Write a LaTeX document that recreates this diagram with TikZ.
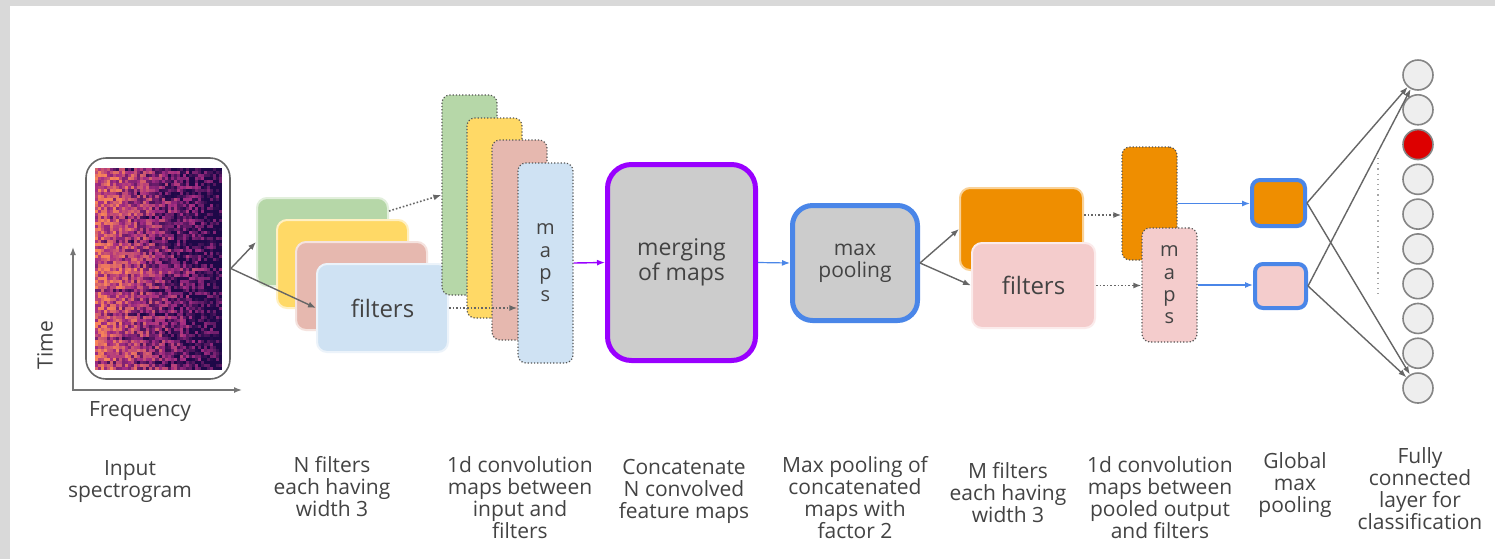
\documentclass[tikz,border=0pt]{standalone}
\usepackage{fontspec}
\setmainfont{Open Sans}
\usetikzlibrary{arrows.meta,calc,positioning}

% palette
\definecolor{bggray}{HTML}{D9D9D9}
\definecolor{txt}{HTML}{434343}
\definecolor{linegray}{HTML}{666666}
\definecolor{dotgray}{HTML}{555555}
\definecolor{lgreen}{HTML}{B6D7A8}
\definecolor{lyellow}{HTML}{FFD966}
\definecolor{lsalmon}{HTML}{E6B8AF}
\definecolor{lblue}{HTML}{CFE2F3}
\definecolor{lpink}{HTML}{F4CCCC}
\definecolor{dorange}{HTML}{EF8E00}
\definecolor{cellgray}{HTML}{CCCCCC}
\definecolor{neurongray}{HTML}{EEEEEE}
\definecolor{mergepurple}{HTML}{9900FF}
\definecolor{poolblue}{HTML}{4A86E8}
\definecolor{hotred}{HTML}{DD0000}
% spectrogram colour ramp
\definecolor{specA}{HTML}{1E0848}
\definecolor{specB}{HTML}{A42C84}
\definecolor{specC}{HTML}{F7835A}

\tikzset{
  lbl/.style={align=center, inner sep=0pt, text=txt, font=\fontsize{10.5}{11}\selectfont},
  filt/.style={draw=#1!40!white, fill=#1, line width=1pt, rounded corners=5pt,
    minimum width=65.5pt, minimum height=44pt, inner sep=0pt, text=txt,
    font=\fontsize{12}{13}\selectfont},
  fmap/.style={draw=dotgray, densely dotted, line width=0.6pt, fill=#1, rounded corners=4pt,
    minimum width=27.5pt, minimum height=100pt, inner sep=0pt, align=center, text=txt,
    font=\fontsize{10}{11.2}\selectfont},
  gpool/.style={draw=poolblue, line width=2pt, fill=#1, rounded corners=4pt,
    inner sep=0pt},
  neuron/.style={circle, draw=linegray!80, line width=0.8pt, minimum size=15pt, inner sep=0pt},
  conn/.style={draw=linegray, line width=0.7pt},
  dotconn/.style={draw=linegray, densely dotted, line width=0.8pt},
}

\begin{document}
\begin{tikzpicture}[x=0.5pt, y=-0.5pt, >={Latex[length=4pt,width=3pt]}]
\useasboundingbox (0,0) rectangle (1495,559);
\fill[bggray] (0,0) rectangle (1495,559);
\fill[white] (10,6) rectangle (1495,559);

% input spectrogram
\pgfmathsetseed{17}
\foreach \i in {0,...,41}{
  \foreach \j in {0,...,66}{
    \pgfmathsetmacro\v{0.8-0.78*\i/41+0.7*(rnd-0.5)-0.22*(mod(\j,8)==0)+0.15*(abs(\j-33)<2)}
    \pgfmathtruncatemacro\pb{100*min(max(2*\v,0),1)}
    \pgfmathtruncatemacro\pc{100*min(max(2*\v-1,0),1)}
    \fill[specC!\pc!specB!\pb!specA] (95+3.024*\i,168+3.015*\j) rectangle ++(3.3,3.3);
  }
}
\node[draw=linegray, line width=0.8pt, rounded corners=10pt, minimum width=72pt,
  minimum height=110.5pt, inner sep=0pt] (spec) at (158,268.5) {};

% axes
\coordinate (origin) at (73,390);
\coordinate (tEnd) at (73,247);
\coordinate (fEnd) at (242,390);
\draw[draw=linegray!90, line width=0.7pt, <->] (tEnd) -- (origin) -- (fEnd);
\node[lbl, rotate=90] (timeLbl) at (45,345) {Time};
\node[lbl] (freqLbl) at (140,412) {Frequency};

% N filters
\node[filt=lgreen] (fGreen) at (322.5,242) {};
\node[filt=lyellow] (fYellow) at (342.5,264) {};
\node[filt=lsalmon] (fSalmon) at (361.5,286) {};
\node[filt=lblue] (fBlue) at (382.5,308) {filters};
\draw[conn,->] (spec.east) -- (fGreen.west);
\draw[conn,->] (spec.east) -- (fBlue.west);

% convolution maps
\node[fmap=lgreen] (mGreen) at (469.5,195) {};
\node[fmap=lyellow] (mYellow) at (494.5,218) {};
\node[fmap=lsalmon] (mSalmon) at (519.5,240) {};
\node[fmap=lblue] (mBlue) at (545.5,263) {m\\a\\p\\s};
\draw[dotconn,->] (fGreen.25) -- (mGreen.west);
\draw[dotconn,->] (fBlue.east) -- (fBlue.east -| mBlue.west);

% merging and pooling
\node[draw=mergepurple, line width=2.5pt, fill=cellgray, rounded corners=12pt,
  minimum width=74pt, minimum height=98pt, align=center, text=txt,
  font=\fontsize{11.5}{11.5}\selectfont] (merge) at (681.5,262.5) {merging\\of maps};
\draw[draw=mergepurple, line width=0.7pt, ->] (mBlue.east) -- (merge.west);
\node[draw=poolblue, line width=2.5pt, fill=cellgray, rounded corners=10pt,
  minimum width=62.5pt, minimum height=57.5pt, align=center, text=txt,
  font=\fontsize{10.5}{11}\selectfont] (pool) at (855,263) {max\\pooling};
\draw[draw=poolblue, line width=0.6pt, ->] (merge.east) -- (pool.west);

% M filters
\node[filt=dorange, minimum width=61.5pt, minimum height=41pt] (fOrange) at (1021.5,229) {};
\node[filt=lpink, minimum width=61.5pt, minimum height=42.5pt] (fPink) at (1033.5,285.5) {filters};
\draw[conn,->] (pool.east) -- (fOrange.west);
\draw[conn,->] (pool.east) -- (fPink.west);

% second convolution maps
\node[fmap=dorange, minimum height=56.5pt] (mOrange) at (1149.5,203.5) {};
\node[fmap=lpink, minimum height=57pt] (mPink) at (1169.5,285) {m\\a\\p\\s};
\draw[dotconn,->] ([yshift=7pt]fOrange.east) -- ([yshift=7pt]fOrange.east -| mOrange.west);
\draw[dotconn,->] (fPink.east) -- (fPink.east -| mPink.west);

% global max pooling
\node[gpool=dorange, minimum width=26.5pt, minimum height=23pt] (gOrange) at (1278.5,203) {};
\node[gpool=lpink, minimum width=25.5pt, minimum height=22pt] (gPink) at (1280.5,286) {};
\draw[draw=poolblue, line width=0.6pt, ->] (mOrange.east) -- (mOrange.east -| gOrange.west);
\draw[draw=poolblue, line width=0.6pt, ->] (mPink.east) -- (mPink.east -| gPink.west);

% fully connected layer
\foreach \k in {1,...,10}{
  \ifnum\k=3 \def\nfill{hotred}\else\def\nfill{neurongray}\fi
  \node[neuron, fill=\nfill] (n\k) at (1418,{75+34.78*(\k-1)}) {};
}
\coordinate (dotTop) at (1378,158);
\coordinate (dotBot) at (1378,298);
\draw[gray!70, dotted, line width=0.6pt] (dotTop) -- (dotBot);
\foreach \g in {gOrange,gPink}{
  \draw[conn,->] (\g.east) -- (n1);
  \draw[conn,->] (\g.east) -- (n10);
}

% captions
\node[lbl] (capInput) at (130,482) {Input\\spectrogram};
\node[lbl] (capFilt) at (332,487) {N filters\\each having\\width 3};
\node[lbl] (capConv) at (520,498) {1d convolution\\maps between\\input and\\filters};
\node[lbl] (capCat) at (684,491) {Concatenate\\N convolved\\feature maps};
\node[lbl] (capPool) at (855,498) {Max pooling of\\concatenated\\maps with\\factor 2};
\node[lbl] (capMFilt) at (1008,493) {M filters\\each having\\width 3};
\node[lbl] (capConvB) at (1160,498) {1d convolution\\maps between\\pooled output\\and filters};
\node[lbl] (capGlob) at (1295,485) {Global\\max\\pooling};
\node[lbl] (capFc) at (1420,489) {Fully\\connected\\layer for\\classification};
\end{tikzpicture}
\end{document}
